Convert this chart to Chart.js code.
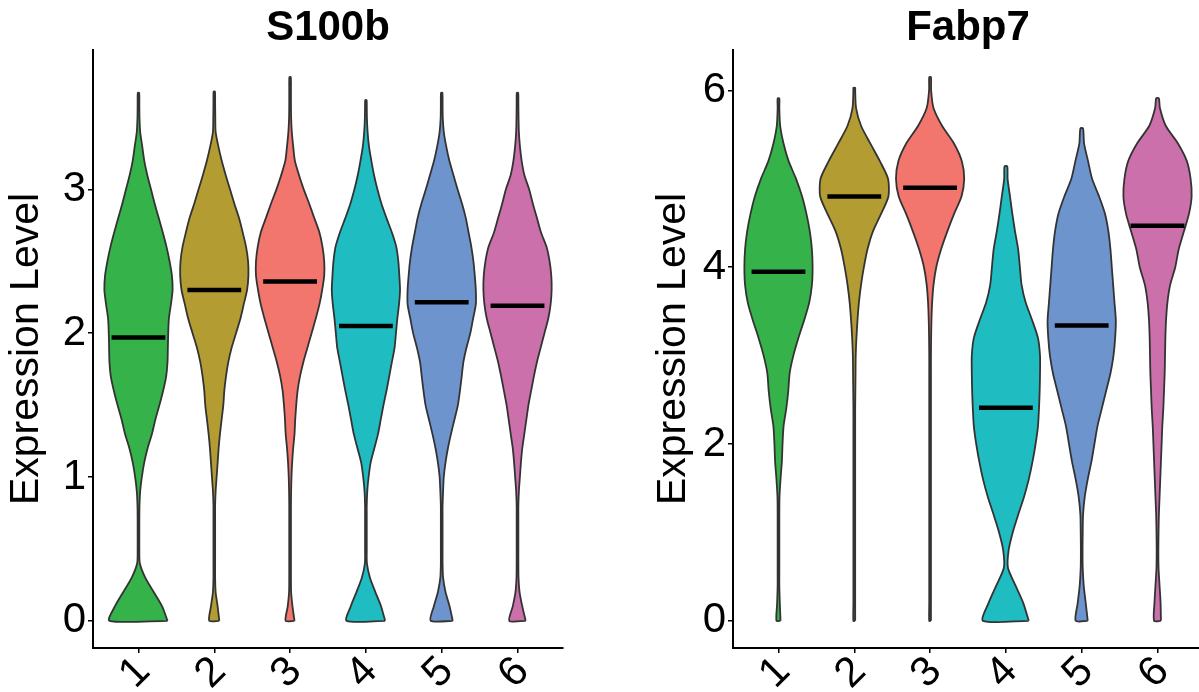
<!DOCTYPE html>
<html>
<head>
<meta charset="utf-8">
<script src="https://cdn.jsdelivr.net/npm/chart.js@4.4.1/dist/chart.umd.min.js"></script>
<style>
  html, body { margin: 0; padding: 0; background: #fff; overflow: hidden; width: 1199px; height: 692px; }
  #wrap { position: relative; width: 1199px; height: 692px; overflow: hidden; }
  canvas { position: absolute; top: 0; }
  #panelA { left: 0; }
  #panelB { left: 600px; }
</style>
</head>
<body>
<div id="wrap">
  <canvas id="panelA" width="600" height="692"></canvas>
  <canvas id="panelB" width="603" height="692"></canvas>
</div>
<script>
const clusters = ['1', '2', '3', '4', '5', '6'];
const clusterColors = ['#35b34a', '#b39d33', '#f2756e', '#1fbdc1', '#6e94cd', '#cc70ab'];

// S100b: violin half-widths (relative density) sampled every 0.1 from 0
const s100bLevels = [0, 0.1, 0.2, 0.3, 0.4, 0.5, 0.6, 0.7, 0.8, 0.9, 1.0, 1.1, 1.2, 1.3, 1.4, 1.5, 1.6, 1.7, 1.8, 1.9,
  2.0, 2.1, 2.2, 2.3, 2.4, 2.5, 2.6, 2.7, 2.8, 2.9, 3.0, 3.1, 3.2, 3.3, 3.4, 3.5, 3.6, 3.7];
const s100bC1 = [86, 70, 45, 20, 4, 2.5, 2.5, 2.5, 3, 5, 10, 17, 27, 40, 50, 62, 73, 82, 86, 87, 88, 90, 96, 101, 99, 92, 83, 72, 60, 48, 37, 26, 17, 11, 5, 3, 2.5];
const s100bC2 = [15, 10, 4, 2.5, 2.5, 2.5, 2.5, 2.5, 2.5, 4, 7, 10, 13, 17, 22, 27, 30, 35, 42, 52, 65, 78, 88, 98, 102, 101, 95, 85, 74, 60, 47, 34, 22, 12, 4, 3, 2.5];
const s100bC3 = [13, 7, 3, 2.5, 2.5, 2.5, 2.5, 2.5, 2.5, 3, 4, 6, 9, 13, 15, 18, 22, 29, 39, 51, 63, 75, 86, 94, 100, 100, 95, 86, 71, 56, 40, 26, 14, 9, 5, 3, 2.5, 2.5];
const s100bC4 = [57, 45, 28, 12, 3, 2.5, 2.5, 2.5, 2.5, 4, 8, 14, 25, 36, 44, 52, 61, 69, 77, 85, 89, 93, 98, 101, 99, 96, 90, 77, 61, 46, 34, 24, 16, 9, 5, 3, 2.5];
const s100bC5 = [32, 23, 11, 4, 2.5, 2.5, 2.5, 2.5, 2.5, 4, 6, 11, 18, 27, 37, 47, 53, 58, 63, 72, 83, 91, 99, 99, 96, 92, 86, 78, 70, 59, 46, 34, 22, 13, 6, 3, 2.5];
const s100bC6 = [24, 14, 6, 3, 2.5, 2.5, 2.5, 2.5, 2.5, 4, 7, 10, 14, 20, 26, 32, 40, 48, 57, 68, 79, 90, 97, 100, 99, 94, 85, 69, 57, 45, 34, 20, 12, 7, 4, 3, 2.5];
const s100bTop = [3.67, 3.68, 3.78, 3.62, 3.67, 3.67];
const s100bTopW = [2, 2, 2, 2, 2, 2];
const s100bMedian = [1.97, 2.30, 2.36, 2.05, 2.215, 2.19];
const s100bTicks = [0, 1, 2, 3];

// Fabp7: violin half-widths sampled every 0.2 from 0
const fabp7Levels = [0, 0.2, 0.4, 0.6, 0.8, 1.0, 1.2, 1.4, 1.6, 1.8, 2.0, 2.2, 2.4, 2.6, 2.8, 3.0,
  3.2, 3.4, 3.6, 3.8, 4.0, 4.2, 4.4, 4.6, 4.8, 5.0, 5.2, 5.4, 5.6, 5.8, 6.0];
const fabp7C1 = [6, 4, 2.5, 2.5, 2.5, 2.5, 2.5, 3, 6, 10, 12, 15, 23, 29, 33, 44, 59, 76, 91, 99, 101, 99, 93, 83, 70, 52, 30, 15, 5, 2.5];
const fabp7C2 = [2.5, 2.5, 2.5, 2.5, 2.5, 2.5, 2.5, 2.5, 2.5, 2.5, 2.5, 2.5, 2.5, 3, 3.5, 4, 6, 9, 13, 19, 27, 37, 52, 75, 96, 95, 72, 45, 19, 5, 2.5];
const fabp7C3 = [2.5, 2.5, 2.5, 2.5, 2.5, 2.5, 2.5, 2.5, 2.5, 2.5, 2.5, 2.5, 2.5, 2.5, 2.5, 2.5, 3, 4, 6, 10, 18, 32, 50, 70, 92, 100, 93, 70, 35, 10, 3];
const fabp7C4 = [67, 51, 28, 6, 8, 20, 36, 53, 67, 78, 87, 94, 97, 99, 100, 100, 94, 77, 58, 46, 41, 36, 27, 19, 12, 5];
const fabp7C5 = [18, 12, 6, 3, 2.5, 3, 4, 9, 18, 29, 38, 47, 60, 73, 86, 95, 100, 102, 98, 94, 90, 86, 80, 70, 52, 31, 19, 7];
const fabp7C6 = [10, 9, 6, 3, 2.5, 3, 4, 6, 8, 10, 12, 14, 17, 19, 21, 22, 23, 25, 29, 37, 52, 62, 77, 92, 100, 97, 86, 60, 24, 7];
const fabp7Top = [5.91, 6.03, 6.15, 5.14, 5.57, 5.91];
const fabp7TopW = [2.5, 2.5, 2.5, 4, 4, 4];
const fabp7Median = [3.95, 4.80, 4.90, 2.41, 3.34, 4.47];
const fabp7Ticks = [0, 2, 4, 6];

const FONT = "'Liberation Sans', Arial, Helvetica, sans-serif";
const VIOLIN_HALF = 0.45;   // widest point spans 0.9 of a category
const MEDIAN_HALF = 0.355;

// closed outline: up the right side, across the top, down the left side
function violinOutline(center, levels, widths, top, topW) {
  const peak = Math.max(...widths, topW);
  const rightSide = widths.map((w, i) => ({ x: center + VIOLIN_HALF * w / peak, y: levels[i] }));
  rightSide.push({ x: center + VIOLIN_HALF * topW / peak, y: top });
  const leftSide = rightSide.map(p => ({ x: 2 * center - p.x, y: p.y })).reverse();
  const pts = rightSide.concat(leftSide);
  pts.push({ x: pts[0].x, y: pts[0].y });
  return pts;
}

function buildDatasets(levels, widthSets, tops, topWs, medians) {
  const sets = [];
  widthSets.forEach((w, i) => {
    const c = i + 1;
    sets.push({
      data: violinOutline(c, levels, w, tops[i], topWs[i]),
      showLine: true,
      fill: 'shape',
      backgroundColor: clusterColors[i],
      borderColor: '#333333',
      borderWidth: 1.8,
      pointRadius: 0,
      tension: 0.25,
      order: 2
    });
    sets.push({
      data: [{ x: c - MEDIAN_HALF, y: medians[i] }, { x: c + MEDIAN_HALF, y: medians[i] }],
      showLine: true,
      fill: false,
      borderColor: '#000000',
      borderWidth: 4.5,
      borderCapStyle: 'butt',
      pointRadius: 0,
      order: 0
    });
  });
  return sets;
}

function makePanel(canvasId, titleText, p) {
  const tickColor = '#000000';
  return new Chart(document.getElementById(canvasId), {
    type: 'scatter',
    data: { datasets: buildDatasets(p.levels, p.widths, p.tops, p.topWs, p.medians) },
    options: {
      responsive: false,
      animation: false,
      devicePixelRatio: 1,
      layout: { padding: { left: 0, right: p.padRight, top: 0, bottom: 0 } },
      plugins: {
        legend: { display: false },
        tooltip: { enabled: false },
        title: {
          display: true,
          text: titleText,
          fullSize: false,
          color: '#000',
          font: { family: FONT, size: 42, weight: 'bold', lineHeight: 1.03 },
          padding: { top: 6.7, bottom: 0 }
        }
      },
      scales: {
        x: {
          type: 'linear',
          min: 0.4,
          max: 6.6,
          afterBuildTicks: s => { s.ticks = clusters.map((c, i) => ({ value: i + 1 })); },
          afterFit: s => { s.height = 44; },
          grid: { display: true, drawOnChartArea: false, drawTicks: true, tickLength: 5, color: tickColor, lineWidth: 1.5 },
          border: { display: true, color: '#000', width: 2 },
          ticks: {
            autoSkip: false, minRotation: 45, maxRotation: 45, padding: -6, labelOffset: 5,
            color: '#000', font: { family: FONT, size: 42 },
            callback: v => clusters[Math.round(v) - 1]
          }
        },
        y: {
          type: 'linear',
          min: p.yMin,
          max: p.yMax,
          afterBuildTicks: s => { s.ticks = p.ticks.map(v => ({ value: v })); },
          afterFit: s => { s.width = p.axisWidth; },
          title: {
            display: true, text: 'Expression Level', color: '#000',
            font: { family: FONT, size: 41 }, padding: { top: p.titlePad, bottom: 0 }
          },
          grid: { display: true, drawOnChartArea: false, drawTicks: true, tickLength: 5, color: tickColor, lineWidth: 1.5 },
          border: { display: true, color: '#000', width: 2 },
          ticks: { padding: 2, color: '#000', font: { family: FONT, size: 42 } }
        }
      }
    }
  });
}

const s100bMax = Math.max(...s100bTop);
const fabp7Max = Math.max(...fabp7Top);

makePanel('panelA', 'S100b', {
  levels: s100bLevels,
  widths: [s100bC1, s100bC2, s100bC3, s100bC4, s100bC5, s100bC6],
  tops: s100bTop, topWs: s100bTopW, medians: s100bMedian, ticks: s100bTicks,
  yMin: -0.05 * s100bMax, yMax: 1.05 * s100bMax,
  axisWidth: 93, titlePad: 2, padRight: 37
});

makePanel('panelB', 'Fabp7', {
  levels: fabp7Levels,
  widths: [fabp7C1, fabp7C2, fabp7C3, fabp7C4, fabp7C5, fabp7C6],
  tops: fabp7Top, topWs: fabp7TopW, medians: fabp7Median, ticks: fabp7Ticks,
  yMin: -0.05 * fabp7Max, yMax: 1.05 * fabp7Max,
  axisWidth: 133, titlePad: 49, padRight: 0
});
</script>
</body>
</html>
